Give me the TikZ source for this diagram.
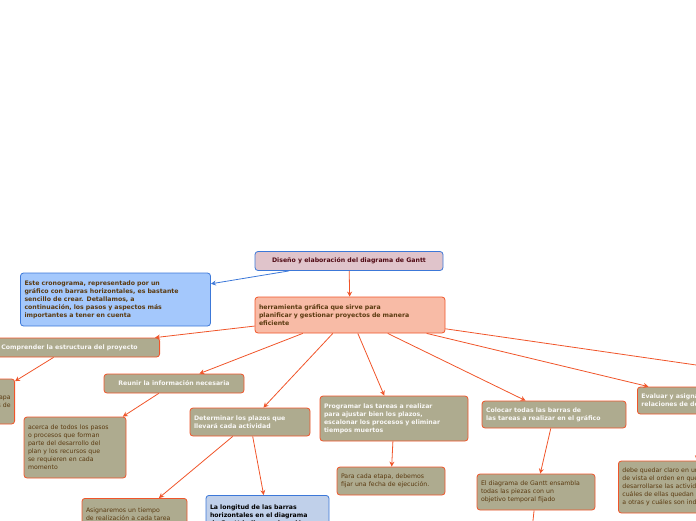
\documentclass[tikz,border=0pt]{standalone}
\usepackage{fontspec}
\setmainfont{DejaVu Sans}
\usetikzlibrary{arrows.meta}
\definecolor{olive}{HTML}{AEAB8F}
\definecolor{orng}{HTML}{F0552A}
\definecolor{bluebd}{HTML}{3C78D8}
\definecolor{txtbrown}{HTML}{5A3A10}
\tikzset{
  box/.style={draw=orng, line width=0.8pt, rounded corners=3pt, fill=olive, align=left, inner sep=4pt, font=\fontsize{6.2}{8}\selectfont},
  topic/.style={box, text=white!92!olive, font=\fontsize{6.2}{8}\selectfont\bfseries},
  leaf/.style={box, text=txtbrown},
  link/.style={draw=orng, line width=0.8pt, -{Stealth[length=5pt,width=5pt]}},
}
\begin{document}
\begin{tikzpicture}[x=1pt, y=-1pt]
\useasboundingbox (0,0) rectangle (696,520);
\clip (0,0) rectangle (696,520);
\node [box, fill={rgb,255:red,224;green,196;blue,203}, draw=bluebd, text={rgb,255:red,80;green,10;blue,20}, font=\fontsize{6.2}{8}\selectfont\bfseries, minimum width=188pt, minimum height=19pt, align=center] (title) at (349,261) {Diseño y elaboración del diagrama de Gantt};
\node [box, fill={rgb,255:red,164;green,200;blue,252}, draw=bluebd, text=txtbrown, font=\fontsize{6.2}{8}\selectfont\bfseries, text width=182pt, minimum height=53pt] (intro) at (115.5,299.5) {Este cronograma, representado por un\\gráfico con barras horizontales, es bastante\\sencillo de crear. Detallamos, a\\continuación, los pasos y aspectos más\\importantes a tener en cuenta};
\node [box, fill={rgb,255:red,248;green,187;blue,166}, text=txtbrown, font=\fontsize{6.2}{8}\selectfont\bfseries, text width=182pt, minimum height=36pt] (herr) at (350,315) {herramienta gráfica que sirve para\\planificar y gestionar proyectos de manera\\eficiente};

\node [topic, minimum width=180pt, minimum height=19pt, anchor=east] (estruc) at (160,347.5) {Comprender la estructura del proyecto};
\node [leaf, minimum height=45pt, anchor=east, align=right] (etapas) at (15,401.5) {Dividir en etapa\\a etapa y fases de};
\node [topic, minimum width=140pt, minimum height=19pt, align=center] (reunir) at (174,383.5) {Reunir la información necesaria};
\node [leaf, text width=94pt, minimum height=61pt] (acerca) at (75,447.5) {acerca de todos los pasos\\o procesos que forman\\parte del desarrollo del\\plan y los recursos que\\se requieren en cada\\momento};
\node [topic, text width=112pt, minimum height=28pt] (plazos) at (250,422) {Determinar los plazos que\\llevará cada actividad};
\node [leaf, text width=97pt, minimum height=40pt, anchor=north] (asignar) at (134.5,498) {Asignaremos un tiempo\\de realización a cada tarea\\del proyecto};
\node [box, fill={rgb,255:red,192;green,208;blue,234}, draw=bluebd, text=black, font=\fontsize{6.2}{8}\selectfont\bfseries, text width=115pt, minimum height=40pt, anchor=north] (longitud) at (267.5,495) {La longitud de las barras\\horizontales en el diagrama\\de Gantt indica su duración};
\node [topic, text width=140pt, minimum height=45pt] (progr) at (394,418.5) {Programar las tareas a realizar\\para ajustar bien los plazos,\\escalonar los procesos y eliminar\\tiempos muertos};
\node [leaf, text width=100pt, minimum height=28pt] (etapa) at (391,481) {Para cada etapa, debemos\\fijar una fecha de ejecución.};
\node [topic, text width=136pt, minimum height=27pt] (colocar) at (554,414.5) {Colocar todas las barras de\\las tareas a realizar en el gráfico};
\node [leaf, text width=110pt, minimum height=36pt] (ensambla) at (536,492) {El diagrama de Gantt ensambla\\todas las piezas con un\\objetivo temporal fijado};
\node [topic, text width=130pt, minimum height=27pt, anchor=west] (evaluar) at (637,400.5) {Evaluar y asignar las\\relaciones de dependencia};
\node [leaf, text width=140pt, minimum height=52pt, anchor=west] (orden) at (618,487) {debe quedar claro en un golpe\\de vista el orden en que deben\\desarrollarse las actividades,\\cuáles de ellas quedan supeditadas\\a otras y cuáles son independientes};
\coordinate (otro) at (710,367);
\coordinate (abajo) at (532,530);

\draw [link, draw=bluebd] (title) -- (intro);
\draw [link] (title) -- (herr);
\draw [link] (herr) -- (estruc);
\draw [link] (estruc) -- (etapas);
\draw [link] (herr) -- (reunir);
\draw [link] (reunir) -- (acerca);
\draw [link] (herr) -- (plazos);
\draw [link] (plazos) -- (asignar);
\draw [link] (plazos) -- (longitud);
\draw [link] (herr) -- (progr);
\draw [link] (progr) -- (etapa);
\draw [link] (herr) -- (colocar);
\draw [link] (colocar) -- (ensambla);
\draw [link] (herr) -- (evaluar);
\draw [link] (herr) -- (otro);
\draw [link] (evaluar) -- (orden);
\draw [link] (ensambla) -- (abajo);
\end{tikzpicture}
\end{document}
